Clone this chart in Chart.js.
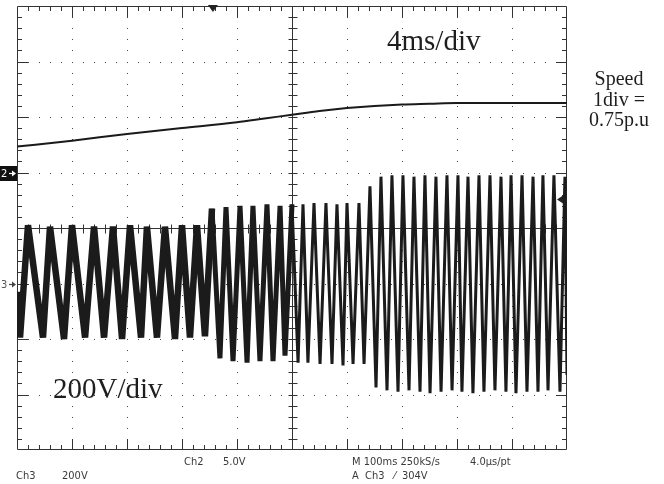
<!DOCTYPE html>
<html>
<head>
<meta charset="utf-8">
<title>Speed and phase voltage during start-up</title>
<script src="https://cdn.jsdelivr.net/npm/chart.js@4/dist/chart.umd.min.js"></script>
<style>
  body { margin: 0; background: #fff; }
  #wrap { position: relative; width: 664px; height: 484px; overflow: hidden; background: #fff; }
  #scope { position: absolute; left: 0; top: 0; }
  .lbl { position: absolute; white-space: pre; line-height: 1; }
  .serif { font-family: "Liberation Serif", "Times New Roman", serif; color: #1e1e1e; }
  .status { font-family: "DejaVu Sans Condensed", "DejaVu Sans", sans-serif; font-stretch: condensed; font-size: 11px; color: #3a3a3a; }
</style>
</head>
<body>
<div id="wrap">
  <canvas id="scope" width="664" height="484"></canvas>

  <div class="lbl serif" style="left:387px;top:26px;font-size:29px">4ms/div</div>
  <div class="lbl serif" style="left:53px;top:374px;font-size:29px">200V/div</div>
  <div class="lbl serif" style="left:576px;top:68px;width:86px;text-align:center;font-size:20px;line-height:20.5px">Speed<br>1div =<br>0.75p.u</div>

  <div class="lbl status" style="left:184px;top:456px">Ch2</div>
  <div class="lbl status" style="left:223px;top:456px">5.0V</div>
  <div class="lbl status" style="left:352px;top:456px">M 100ms 250kS/s</div>
  <div class="lbl status" style="left:470px;top:456px">4.0µs/pt</div>
  <div class="lbl status" style="left:16px;top:470px">Ch3</div>
  <div class="lbl status" style="left:62px;top:470px">200V</div>
  <div class="lbl status" style="left:352px;top:470px">A  Ch3   ⁄  304V</div>
</div>

<script>
// time base: 4 ms/div, 10 divisions across the screen
const timeMin = 0;
const timeMax = 40;
const msPerDiv = 4;

// Ch2 - speed in p.u. (1 div = 0.75 p.u.), ground marker 1 div above centre
const speedTimes = [0, 4, 8, 12, 16, 18, 20, 22, 24, 26, 28, 30, 32, 36, 40];
const speedPU = [0.35, 0.43, 0.52, 0.60, 0.68, 0.73, 0.78, 0.83, 0.87, 0.90, 0.92, 0.93, 0.94, 0.94, 0.94];
const puPerDiv = 0.75;
const ch2Offset = 1;

// Ch3 - voltage (200 V/div), ground marker 1 div below centre
// one trough and one peak per cycle
const troughTimes = [0.22, 1.89, 3.42, 4.95, 6.33, 7.64, 9.02, 10.18, 11.49, 12.58,
  13.67, 14.76, 15.71, 16.73, 17.67, 18.62, 19.49,
  20.44, 21.16, 22.04, 22.91, 23.71, 24.44, 25.24,
  26.11, 26.91, 27.71, 28.51, 29.31, 30.04, 30.84, 31.64, 32.36,
  33.16, 33.96, 34.76, 35.56, 36.29, 37.09, 37.89, 38.62, 39.49];
const troughVolts = [-195, -195, -200, -195, -195, -200, -195, -195, -200, -195,
  -190, -270, -280, -285, -280, -280, -260,
  -285, -285, -290, -290, -295, -290, -290,
  -375, -385, -390, -385, -390, -395, -390, -385, -390,
  -395, -390, -385, -390, -395, -390, -390, -385, -390];
const peakTimes = [0.80, 2.40, 4.00, 5.60, 6.98, 8.22, 9.45, 10.76, 12.00, 13.09,
  14.18, 15.20, 16.22, 17.16, 18.18, 19.13, 20.00,
  20.80, 21.60, 22.47, 23.27, 24.00, 24.87, 25.67,
  26.47, 27.27, 28.07, 28.87, 29.67, 30.47, 31.27, 32.07, 32.80,
  33.60, 34.40, 35.20, 35.93, 36.73, 37.53, 38.25, 39.05, 39.85];
const peakVolts = [210, 205, 210, 205, 205, 210, 205, 205, 210, 210,
  270, 275, 280, 280, 285, 280, 285,
  285, 290, 290, 285, 290, 290, 350,
  385, 390, 390, 385, 390, 385, 390, 390, 385,
  390, 390, 385, 390, 390, 385, 390, 390, 385];
const voltStart = -30;
const voltEnd = -330;
const voltsPerDiv = 200;
const ch3Offset = -1;

// trigger: A Ch3 rising 304 V, position marker on top edge
const triggerLevel = 304;
const triggerTime = 14.25;

const speedPoints = speedTimes.map((t, i) => ({ x: t, y: ch2Offset + speedPU[i] / puPerDiv }));

const ch3Points = [{ x: timeMin, y: ch3Offset + voltStart / voltsPerDiv }];
troughTimes.forEach((t, i) => {
  ch3Points.push({ x: t, y: ch3Offset + troughVolts[i] / voltsPerDiv });
  ch3Points.push({ x: peakTimes[i], y: ch3Offset + peakVolts[i] / voltsPerDiv });
});
ch3Points.push({ x: timeMax, y: ch3Offset + voltEnd / voltsPerDiv });

const lineColor = '#333';

// scope graticule: border, dotted grid, centre cross with minor ticks
const graticule = {
  id: 'graticule',
  beforeDatasetsDraw(chart) {
    const { ctx, chartArea: a, scales: { x, y } } = chart;
    const xp = d => Math.round(x.getPixelForValue(d * msPerDiv));
    const yp = d => Math.round(y.getPixelForValue(d));
    ctx.save();

    ctx.fillStyle = '#444';
    for (let d = 1; d < 10; d++) {
      if (d === 5) continue;
      for (let s = 1; s < 40; s++) ctx.fillRect(xp(d), yp(-4 + s * 0.2), 1, 1);
    }
    for (let d = -3; d <= 3; d++) {
      if (d === 0) continue;
      for (let s = 1; s < 50; s++) ctx.fillRect(xp(s * 0.2), yp(d), 1, 1);
    }

    ctx.strokeStyle = lineColor;
    ctx.lineWidth = 1;
    ctx.beginPath();
    ctx.rect(a.left + 0.5, a.top + 0.5, a.right - a.left - 1, a.bottom - a.top - 1);

    const cx = xp(5) + 0.5;
    const cy = yp(0) + 0.5;
    ctx.moveTo(cx, a.top); ctx.lineTo(cx, a.bottom);
    ctx.moveTo(a.left, cy); ctx.lineTo(a.right, cy);

    for (let s = 1; s < 50; s++) {
      const px = xp(s * 0.2) + 0.5;
      const len = s % 5 === 0 ? 11 : 5;
      ctx.moveTo(px, a.top); ctx.lineTo(px, a.top + len);
      ctx.moveTo(px, a.bottom); ctx.lineTo(px, a.bottom - len);
      ctx.moveTo(px, cy - 4); ctx.lineTo(px, cy + 5);
    }
    for (let s = 1; s < 40; s++) {
      const py = yp(-4 + s * 0.2) + 0.5;
      const len = s % 5 === 0 ? 11 : 5;
      ctx.moveTo(a.left, py); ctx.lineTo(a.left + len, py);
      ctx.moveTo(a.right, py); ctx.lineTo(a.right - len, py);
      ctx.moveTo(cx - 4, py); ctx.lineTo(cx + 5, py);
    }
    ctx.stroke();
    ctx.restore();
  }
};

// channel ground markers and trigger markers
const markers = {
  id: 'markers',
  afterDatasetsDraw(chart) {
    const { ctx, chartArea: a, scales: { x, y } } = chart;
    ctx.save();

    // trigger position on top edge
    const tx = x.getPixelForValue(triggerTime);
    ctx.fillStyle = '#222';
    ctx.beginPath();
    ctx.moveTo(tx - 5, a.top - 1);
    ctx.lineTo(tx + 5, a.top - 1);
    ctx.lineTo(tx, a.top + 6);
    ctx.closePath();
    ctx.fill();

    // trigger level on right edge
    const ty = Math.round(y.getPixelForValue(ch3Offset + triggerLevel / voltsPerDiv)) + 0.5;
    ctx.beginPath();
    ctx.moveTo(a.right - 10, ty);
    ctx.lineTo(a.right - 4, ty - 4);
    ctx.lineTo(a.right - 4, ty + 4);
    ctx.closePath();
    ctx.fill();
    ctx.fillRect(a.right - 5, ty - 1, 4, 2);

    ctx.font = '11px "DejaVu Sans Condensed", "DejaVu Sans", sans-serif';
    ctx.textBaseline = 'middle';

    // Ch2 ground: white on black box
    const y2 = Math.round(y.getPixelForValue(ch2Offset)) + 0.5;
    ctx.fillStyle = '#111';
    ctx.fillRect(0, y2 - 7.5, a.left, 15);
    ctx.fillStyle = '#fff';
    ctx.fillText('2', 1, y2 + 1);
    drawArrow(ctx, 9, a.left - 1, y2, '#fff');

    // Ch3 ground
    const y3 = Math.round(y.getPixelForValue(ch3Offset)) + 0.5;
    ctx.fillStyle = '#555';
    ctx.fillText('3', 1, y3 + 1);
    drawArrow(ctx, 9, a.left - 1, y3, '#444');

    ctx.restore();
  }
};

function drawArrow(ctx, x0, x1, yy, color) {
  ctx.strokeStyle = color;
  ctx.fillStyle = color;
  ctx.lineWidth = 1.2;
  ctx.beginPath();
  ctx.moveTo(x0, yy);
  ctx.lineTo(x1 - 2, yy);
  ctx.stroke();
  ctx.beginPath();
  ctx.moveTo(x1, yy);
  ctx.lineTo(x1 - 4, yy - 3);
  ctx.lineTo(x1 - 4, yy + 3);
  ctx.closePath();
  ctx.fill();
}

new Chart(document.getElementById('scope'), {
  type: 'line',
  data: {
    datasets: [
      {
        label: 'Speed',
        data: speedPoints,
        borderColor: '#1a1a1a',
        borderWidth: 2,
        pointRadius: 0,
        cubicInterpolationMode: 'monotone',
        fill: false
      },
      {
        label: 'Ch3 voltage',
        data: ch3Points,
        borderColor: '#1b1b1b',
        borderWidth: 3,
        borderJoinStyle: 'bevel',
        pointRadius: 0,
        tension: 0,
        fill: false,
        segment: {
          borderWidth: c => c.p0.parsed.x < 14 ? 6.5 : (c.p0.parsed.x < 20 ? 5 : 3)
        }
      }
    ]
  },
  options: {
    responsive: false,
    animation: false,
    devicePixelRatio: 1,
    layout: { padding: { left: 17, right: 97, top: 6, bottom: 34 } },
    scales: {
      x: { type: 'linear', min: timeMin, max: timeMax, display: false },
      y: { type: 'linear', min: -4, max: 4, display: false }
    },
    plugins: {
      legend: { display: false },
      tooltip: { enabled: false }
    },
    events: []
  },
  plugins: [graticule, markers]
});
</script>
</body>
</html>
